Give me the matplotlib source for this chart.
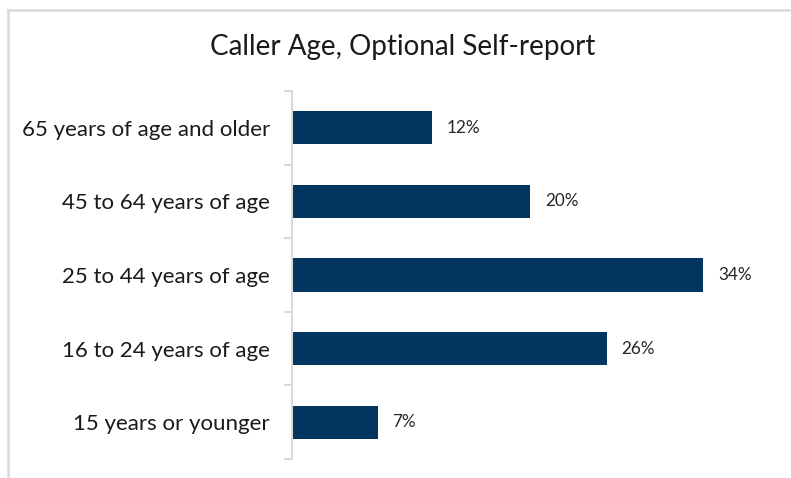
import matplotlib
matplotlib.use("Agg")
import matplotlib.pyplot as plt
from matplotlib.lines import Line2D
import numpy as np

categories = ["15 years or younger", "16 to 24 years of age", "25 to 44 years of age",
              "45 to 64 years of age", "65 years of age and older"]
values = [0.071, 0.26, 0.34, 0.197, 0.116]
title = "Caller Age, Optional Self-report"

plt.rcParams['font.family'] = ['Lato', 'DejaVu Sans']

W, H = 791, 478
fig = plt.figure(figsize=(W / 100, H / 100), dpi=100)
fig.patch.set_facecolor("white")

# frame around chart
grey = "#d9d9d9"
fig.add_artist(Line2D([8 / W, 1.0], [1 - 10 / H, 1 - 10 / H], color=grey, lw=1.8, transform=fig.transFigure))
fig.add_artist(Line2D([8 / W, 8 / W], [0, 1 - 10 / H], color=grey, lw=1.8, transform=fig.transFigure))

ax = fig.add_axes([292 / W, (H - 459) / H, 484 / W, 368 / H])
y = np.arange(len(categories))
ax.barh(y, values, height=0.45, color="#02355f", left=0)
ax.set_xlim(0, 0.40)
ax.set_ylim(-0.5, len(categories) - 0.5)

for yi, v in zip(y, values):
    ax.text(v + 0.012, yi, f"{v:.0%}", va="center", ha="left", fontsize=12.3, color="#262626")

ax.set_yticks(y)
ax.set_yticklabels(categories, fontsize=16, color="#1a1a1a")
ax.tick_params(axis="y", which="major", length=0, pad=16)
ax.set_yticks(np.arange(-0.5, len(categories)), minor=True)
ax.tick_params(axis="y", which="minor", length=6, width=1.5, color=grey)
ax.set_xticks([])
for s in ["top", "right", "bottom"]:
    ax.spines[s].set_visible(False)
ax.spines["left"].set_color(grey)
ax.spines["left"].set_linewidth(1.5)

fig.text(403 / W, 1 - 47 / H, title, ha="center", va="center", fontsize=20, color="#1a1a1a")

fig.savefig("out.png", dpi=100)
